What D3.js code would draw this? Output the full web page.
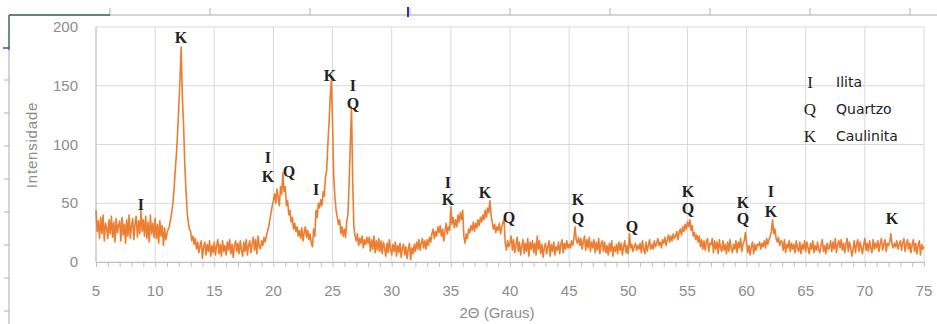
<!DOCTYPE html>
<html>
<head>
<meta charset="utf-8">
<script src="https://cdn.jsdelivr.net/npm/d3@7"></script>
<style>
  html, body { margin: 0; padding: 0; background: #fff; }
  svg { display: block; }
</style>
</head>
<body>
<svg id="chart"></svg>
<script>
// sampling grid of the pattern (degrees 2-theta)
const startAngle = 5;
const stepAngle = 0.1;

// intensity, one row per degree (x.0 .. x.9)
const intensity = [
  44,26,35,20,38,24,40,18,33,29,
  20,36,24,39,21,34,17,37,25,31,
  35,18,38,23,32,16,36,22,40,20,
  31,37,19,33,39,21,35,24,44,26,
  36,22,39,20,34,17,40,24,33,21,
  37,20,32,16,35,22,31,14,29,19,
  24,28,30,36,42,50,62,78,92,110,
  132,155,183,140,118,85,62,44,34,28,
  26,18,22,15,20,11,17,8,14,18,
  3,13,17,6,15,9,18,5,14,8,
  17,6,14,19,7,15,5,18,9,14,
  6,17,10,19,7,15,4,14,18,9,
  16,7,18,10,5,17,9,19,6,14,
  18,8,15,21,10,19,7,22,13,11,
  18,14,21,17,22,26,30,36,42,48,
  52,58,50,62,55,48,64,58,76,60,
  64,48,52,40,44,34,38,28,33,26,
  30,22,27,20,29,18,25,30,21,27,
  19,24,16,13,28,22,44,38,50,46,
  53,48,60,56,72,78,100,118,140,155,
  118,72,55,44,38,32,36,24,30,22,
  28,21,35,40,68,100,132,70,30,22,
  18,24,14,20,16,22,12,19,15,21,
  16,21,9,19,11,22,8,18,10,20,
  9,18,7,17,12,5,16,8,19,11,
  6,15,9,17,5,14,8,16,4,12,
  15,6,13,3,11,16,2,12,7,15,
  9,17,11,19,10,16,20,12,18,11,
  19,14,21,17,24,28,20,26,22,30,
  25,31,22,28,18,26,33,24,30,27,
  47,32,38,29,36,30,40,34,42,36,
  44,22,16,24,20,28,25,31,27,34,
  26,33,29,36,31,38,34,40,36,44,
  38,46,42,52,40,34,28,32,25,30,
  27,33,24,29,34,36,16,10,18,13,
  16,22,10,19,8,15,21,9,17,6,
  14,19,7,16,9,20,5,17,11,18,
  8,16,6,22,11,18,7,15,4,12,
  16,7,13,18,5,15,9,17,6,13,
  10,17,7,15,19,8,16,11,18,12,
  15,12,18,14,20,30,19,16,21,14,
  20,11,17,22,10,19,12,21,9,17,
  12,19,8,17,10,20,7,16,18,9,
  17,8,14,6,16,9,18,5,13,9,
  15,7,17,10,16,6,13,18,8,14,
  7,24,12,15,9,13,16,10,14,11,
  16,8,18,11,7,17,9,14,19,11,
  15,11,18,13,16,20,14,17,12,19,
  16,21,14,19,23,17,22,18,24,20,
  22,26,19,25,28,23,30,26,32,28,
  34,30,36,27,31,22,25,19,23,17,
  22,13,19,11,18,10,17,20,9,16,
  15,20,8,18,11,17,7,19,12,9,
  18,10,15,7,17,9,19,12,8,15,
  11,18,8,17,12,20,9,15,18,25,
  16,8,14,6,13,17,7,15,10,15,
  14,17,11,16,13,18,12,20,15,19,
  22,26,36,24,28,20,17,21,14,18,
  17,10,19,8,15,12,18,9,16,11,
  15,8,18,12,9,17,7,15,11,18,
  9,17,12,7,16,11,18,8,14,10,
  17,10,8,15,19,9,14,7,16,11,
  12,18,9,17,11,20,8,15,18,12,
  19,10,16,8,15,20,9,17,12,5,
  11,18,8,15,19,9,17,12,7,15,
  20,10,16,9,18,12,8,19,11,16,
  12,18,9,16,20,10,15,19,9,16,
  14,17,24,15,12,16,13,18,11,15,
  18,10,16,20,9,15,19,11,16,8,
  15,19,9,16,7,14,18,6,15,11,
  13
];

// phase markers: [2-theta, intensity level, letter]
const markers = [
  [8.8, 49, "I"],
  [12.19, 191, "K"],
  [19.54, 89, "I"], [19.54, 73, "K"],
  [21.31, 77, "Q"],
  [23.6, 62, "I"],
  [24.78, 159, "K"],
  [26.72, 150, "I"], [26.72, 135, "Q"],
  [34.75, 68, "I"], [34.75, 53, "K"],
  [37.88, 59, "K"],
  [39.91, 38, "Q"],
  [45.74, 53, "K"], [45.74, 37, "Q"],
  [50.31, 30, "Q"],
  [55.04, 60, "K"], [55.04, 46, "Q"],
  [59.69, 51, "K"], [59.69, 37, "Q"],
  [62.06, 60, "I"], [62.06, 43, "K"],
  [72.29, 37, "K"]
];

const legendKeys = ["I", "Q", "K"];
const legendNames = ["Ilita", "Quartzo", "Caulinita"];

const xTicks = d3.range(5, 76, 5);
const yTicks = [0, 50, 100, 150, 200];

const W = 937, H = 324;
const svg = d3.select("#chart").attr("width", W).attr("height", H);

const x = d3.scaleLinear().domain([5, 75]).range([96, 924]);
const y = d3.scaleLinear().domain([0, 200]).range([262, 27]);

// sheet ruler leftovers around the chart
const deco = svg.append("g");
deco.append("line").attr("x1", 9).attr("x2", W).attr("y1", 15).attr("y2", 15)
  .attr("stroke", "#a9a9a9");
deco.selectAll(".rt").data(d3.range(110, W, 100)).enter().append("line")
  .attr("x1", d => d).attr("x2", d => d).attr("y1", 8).attr("y2", 15)
  .attr("stroke", "#b0b0b0");
deco.append("line").attr("x1", 408).attr("x2", 408).attr("y1", 7).attr("y2", 17)
  .attr("stroke", "#2233cc").attr("stroke-width", 2);
deco.append("line").attr("x1", 9).attr("x2", 110).attr("y1", 15).attr("y2", 15)
  .attr("stroke", "#3d6e50").attr("stroke-width", 1.5);
deco.append("line").attr("x1", 9).attr("x2", 9).attr("y1", 15).attr("y2", 50)
  .attr("stroke", "#3d6e50").attr("stroke-width", 1.5);
deco.append("line").attr("x1", 9).attr("x2", 9).attr("y1", 50).attr("y2", H)
  .attr("stroke", "#a9a9a9");
deco.selectAll(".lt").data(d3.range(80, H, 33)).enter().append("line")
  .attr("x1", 4).attr("x2", 9).attr("y1", d => d).attr("y2", d => d)
  .attr("stroke", "#b0b0b0");
deco.append("line").attr("x1", 3).attr("x2", 9).attr("y1", 48).attr("y2", 48)
  .attr("stroke", "#3344cc").attr("stroke-width", 1.5);

// grid
const grid = svg.append("g");
grid.selectAll(".gx").data(xTicks).enter().append("line")
  .attr("x1", d => x(d)).attr("x2", d => x(d)).attr("y1", y(200)).attr("y2", y(0))
  .attr("stroke", "#d9d9d9");
grid.selectAll(".gy").data(yTicks).enter().append("line")
  .attr("x1", x(5)).attr("x2", x(75)).attr("y1", d => y(d)).attr("y2", d => y(d))
  .attr("stroke", "#d9d9d9");

// axes
const xAxis = svg.append("g").attr("transform", `translate(0,${y(0)})`)
  .call(d3.axisBottom(x).tickValues(d3.range(5, 76, 1)).tickSize(5).tickFormat(""));
xAxis.select(".domain").attr("stroke", "#bfbfbf");
xAxis.selectAll(".tick line").attr("stroke", "#bfbfbf");
svg.append("line").attr("x1", x(5)).attr("x2", x(5)).attr("y1", y(200)).attr("y2", y(0))
  .attr("stroke", "#bfbfbf");

const labelFont = "'Liberation Sans', Arial, sans-serif";
svg.append("g").selectAll("text").data(xTicks).enter().append("text")
  .attr("x", d => x(d)).attr("y", 296)
  .attr("text-anchor", "middle")
  .attr("font-family", labelFont).attr("font-size", 15).attr("fill", "#8c8c8c")
  .text(d => d);
svg.append("g").selectAll("text").data(yTicks).enter().append("text")
  .attr("x", 78).attr("y", d => y(d) + 5)
  .attr("text-anchor", "end")
  .attr("font-family", labelFont).attr("font-size", 15).attr("fill", "#8c8c8c")
  .text(d => d);

svg.append("text")
  .attr("transform", "translate(37,145) rotate(-90)")
  .attr("text-anchor", "middle")
  .attr("font-family", labelFont).attr("font-size", 15).attr("fill", "#8c8c8c")
  .attr("letter-spacing", 0.8)
  .text("Intensidade");
svg.append("text")
  .attr("x", 497).attr("y", 318)
  .attr("text-anchor", "middle")
  .attr("font-family", labelFont).attr("font-size", 15).attr("fill", "#8c8c8c")
  .text("2Θ (Graus)");

// pattern
const line = d3.line()
  .x((d, i) => x(startAngle + i * stepAngle))
  .y(d => y(d));
svg.append("path").datum(intensity)
  .attr("d", line)
  .attr("fill", "none")
  .attr("stroke", "#ed7d31")
  .attr("stroke-width", 1.6)
  .attr("stroke-linejoin", "round");

// peak letters
const serif = "'Liberation Serif', 'Times New Roman', serif";
svg.append("g").selectAll("text").data(markers).enter().append("text")
  .attr("x", d => x(d[0])).attr("y", d => y(d[1]))
  .attr("dy", "0.35em")
  .attr("text-anchor", "middle")
  .attr("font-family", serif).attr("font-weight", "bold").attr("font-size", 16)
  .attr("fill", "#222")
  .text(d => d[2]);

// legend
const leg = svg.append("g");
leg.selectAll(".ls").data(legendKeys).enter().append("text")
  .attr("x", 810).attr("y", (d, i) => 82 + i * 27).attr("dy", "0.35em")
  .attr("text-anchor", "middle")
  .attr("font-family", serif).attr("font-size", 17).attr("fill", "#222")
  .text(d => d);
leg.selectAll(".ln").data(legendNames).enter().append("text")
  .attr("x", 836).attr("y", (d, i) => 82 + i * 27).attr("dy", "0.35em")
  .attr("font-family", "'DejaVu Sans', Verdana, sans-serif").attr("font-size", 14)
  .attr("fill", "#222")
  .text(d => d);
</script>
</body>
</html>
